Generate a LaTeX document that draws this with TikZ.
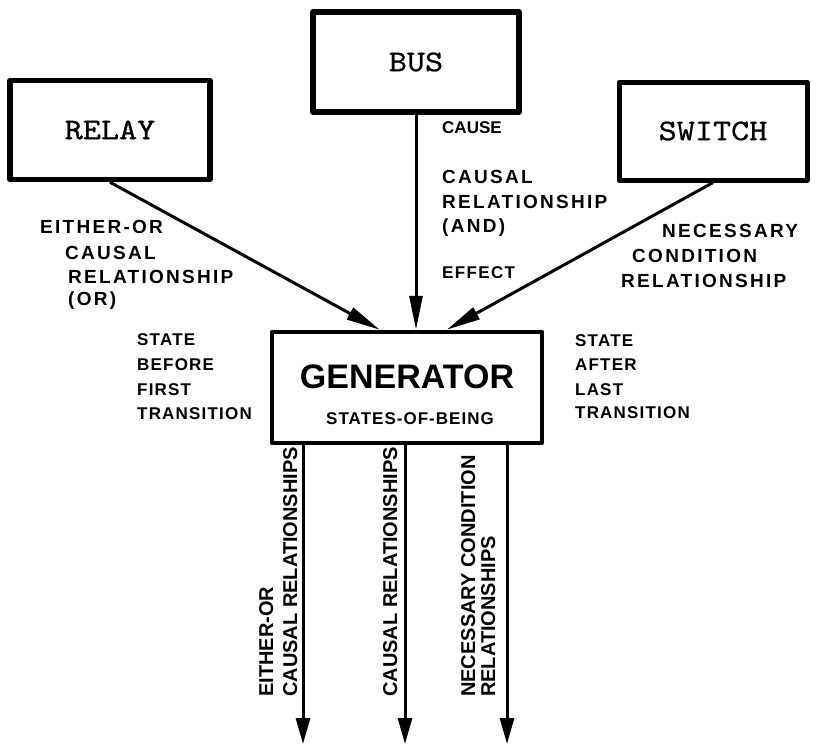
\documentclass[tikz,border=0pt]{standalone}
\usepackage{fontspec}
\usetikzlibrary{arrows.meta}
\newfontfamily\boxfont{lmmono10-regular.otf}[FakeStretch=1.15, FakeBold=0.8]
\newfontfamily\widefont{Liberation Sans}[LetterSpace=12]
\newfontfamily\statefont{Liberation Sans}[LetterSpace=7]
\newfontfamily\subfont{Liberation Sans}[LetterSpace=6]
\newfontfamily\causefont{Liberation Sans}[LetterSpace=8]
\newfontfamily\plainfont{Liberation Sans}

\tikzset{
  unitbox/.style={draw, line width=5.5pt, inner sep=0pt, line join=round,
    font=\boxfont\fontsize{30}{30}\selectfont},
  lbl/.style={inner sep=0pt, anchor=base west,
    font=\widefont\bfseries\fontsize{19}{24}\selectfont},
  statelbl/.style={inner sep=0pt, anchor=base west,
    font=\statefont\bfseries\fontsize{17}{24}\selectfont},
  rotlbl/.style={inner sep=0pt, anchor=base west, rotate=90,
    font=\plainfont\bfseries\fontsize{20}{24}\selectfont},
  inarrow/.style={line width=3pt, -{Triangle[length=34pt,width=13pt]}},
  outarrow/.style={line width=3pt, -{Triangle[length=26pt,width=14pt]}},
}

\begin{document}
\begin{tikzpicture}[x=1pt, y=-1pt]
\useasboundingbox (0,0) rectangle (816,745);

% component boxes
\node[unitbox, minimum width=200pt, minimum height=99pt] (rel) at (110,130) {RELAY};
\node[unitbox, minimum width=206pt, minimum height=100pt] (bus) at (416,62) {BUS};
\node[unitbox, line width=5pt, minimum width=188pt, minimum height=98pt] (sw) at (713,131) {SWITCH};
\node[draw, line width=4.5pt, inner sep=0pt, line join=round,
      minimum width=270pt, minimum height=111pt] (gen) at (407,387.5) {};

% generator texts
\node[inner sep=0pt, anchor=base, font=\plainfont\bfseries\fontsize{34}{34}\selectfont]
  (genname) at (407,388) {GENERATOR};
\node[inner sep=0pt, anchor=base, font=\subfont\bfseries\fontsize{17}{17}\selectfont]
  (gensub) at (410,424) {STATES-OF-BEING};

% incoming relationships
\coordinate (tipor)  at ([xshift=110pt]gen.north west);
\coordinate (tipnec) at ([xshift=177pt]gen.north west);
\draw[inarrow] (rel.south) -- (tipor);
\draw[inarrow] (bus.south) -- (bus.south |- gen.north);
\draw[inarrow] (sw.south) -- (tipnec);

% outgoing relationships
\coordinate (o1) at (303,744);
\coordinate (o2) at (405,744);
\coordinate (o3) at (507,744);
\draw[outarrow] (gen.south -| o1) -- (o1);
\draw[outarrow] (gen.south -| o2) -- (o2);
\draw[outarrow] (gen.south -| o3) -- (o3);

% labels of the relay connector
\node[lbl] (or1) at (40,233) {EITHER-OR};
\node[lbl] (or2) at (65,259) {CAUSAL};
\node[lbl] (or3) at (68,283) {RELATIONSHIP};
\node[lbl] (or4) at (68,305) {(OR)};

% labels of the bus connector
\node[inner sep=0pt, anchor=base west, font=\plainfont\bfseries\fontsize{17}{17}\selectfont]
  (cause) at (442,133) {CAUSE};
\node[lbl] (and1) at (442,183) {CAUSAL};
\node[lbl] (and2) at (442,208) {RELATIONSHIP};
\node[lbl] (and3) at (442,232) {(AND)};
\node[inner sep=0pt, anchor=base west, font=\causefont\bfseries\fontsize{17}{17}\selectfont]
  (effect) at (442,278) {EFFECT};

% labels of the switch connector
\node[lbl] (nec1) at (662,237) {NECESSARY};
\node[lbl] (nec2) at (632,262) {CONDITION};
\node[lbl] (nec3) at (621,287) {RELATIONSHIP};

% states before and after
\node[statelbl] (bef1) at (137,345) {STATE};
\node[statelbl] (bef2) at (137,370) {BEFORE};
\node[statelbl] (bef3) at (137,395) {FIRST};
\node[statelbl] (bef4) at (137,419) {TRANSITION};
\node[statelbl] (aft1) at (575,346) {STATE};
\node[statelbl] (aft2) at (575,370) {AFTER};
\node[statelbl] (aft3) at (575,395) {LAST};
\node[statelbl] (aft4) at (575,418) {TRANSITION};

% labels of the outgoing connectors
\node[rotlbl] (out1a) at (273,697) {EITHER-OR};
\node[rotlbl] (out1b) at (297,697) {CAUSAL RELATIONSHIPS};
\node[rotlbl] (out2)  at (397,697) {CAUSAL RELATIONSHIPS};
\node[rotlbl] (out3a) at (475,697) {NECESSARY CONDITION};
\node[rotlbl] (out3b) at (495,697) {RELATIONSHIPS};
\end{tikzpicture}
\end{document}
